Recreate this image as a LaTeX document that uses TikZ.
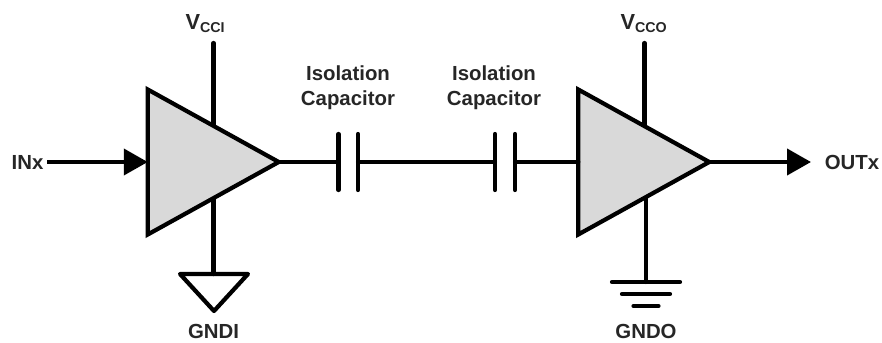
\documentclass[tikz,border=0pt]{standalone}
\usepackage{fontspec}
\setmainfont{Liberation Sans}
\usetikzlibrary{arrows.meta,backgrounds,shapes.geometric}
\definecolor{ampgrey}{gray}{0.85}
\definecolor{labelgrey}{gray}{0.15}

\begin{document}
\begin{tikzpicture}[x=0.25mm,y=-0.25mm]

\tikzset{wire/.style={line width=1.05mm,line cap=round,line join=miter},
textlabel/.style={font=\fontsize{14.5}{18}\selectfont\bfseries,text=labelgrey,inner sep=0pt,align=center},
amp/.style={shape=isosceles triangle,isosceles triangle stretches,shape border rotate=0,draw=black,fill=ampgrey,line width=1.05mm,line join=miter,inner sep=0pt,outer sep=0pt,minimum width=36.25mm,minimum height=32.75mm},
pointer/.style={-{Triangle[length=6mm,width=6.5mm]}}}

\useasboundingbox (0,0) rectangle (882,342);

% Labels
\node[textlabel] (inx) at (27.5,162) {INx};
\node[textlabel] (outx) at (852,162) {OUTx};
\node[textlabel] (vcci) at (205.5,24) {{\fontsize{15.5}{18}\selectfont V}\textsubscript{CCI}};
\node[textlabel] (vcco) at (644,24) {{\fontsize{15.5}{18}\selectfont V}\textsubscript{CCO}};
\node[textlabel] (gndi) at (213.5,331) {GNDI};
\node[textlabel] (gndo) at (646,331) {GNDO};
\node[textlabel] (iso1) at (348,87.5) {Isolation\\Capacitor};
\node[textlabel] (iso2) at (494,87.5) {Isolation\\Capacitor};

% Amplifiers
\node[amp] (amp1) at (190.5,162) {};
\node[amp] (amp2) at (621,162) {};

% Free ends of the wires
\coordinate (vcciend) at (213.5,43);
\coordinate (vccoend) at (644.5,43);
\coordinate (gndiend) at (213.5,274);
\coordinate (gndoend) at (646,282);
\coordinate (inend) at (47,162);
\coordinate (outend) at (811,162);
\coordinate (c1a) at (338.5,162); \coordinate (c1b) at (358,162);
\coordinate (c2a) at (495,162); \coordinate (c2b) at (515,162);

% Capacitor plates
\foreach \plate in {c1a,c1b,c2a,c2b} \draw[wire] (\plate) ++(0,-28) -- ++(0,56);

% Edges
\begin{scope}[on background layer]
\draw[wire] (vcciend) -- (213.5,162);
\draw[wire] (vccoend) -- (644.5,162);
\draw[wire] (213.5,162) -- (gndiend);
\draw[wire] (646,162) -- (gndoend);
\end{scope}
\draw[wire] (amp1.apex) -- (c1a);
\draw[wire] (c1b) -- (c2a);
\draw[wire] (c2b) -- (amp2.west);
\draw[wire,line cap=butt,pointer] (inend) -- (amp1.west);
\draw[wire,line cap=butt,pointer] (amp2.apex) -- (outend);

% Grounds
\draw[wire,line join=round] (180,274) -- (248,274) -- (214,311) -- cycle;
\foreach \y/\w in {282/34,294/24,306/12.5} \draw[wire] (646-\w,\y) -- (646+\w,\y);

\end{tikzpicture}
\end{document}
